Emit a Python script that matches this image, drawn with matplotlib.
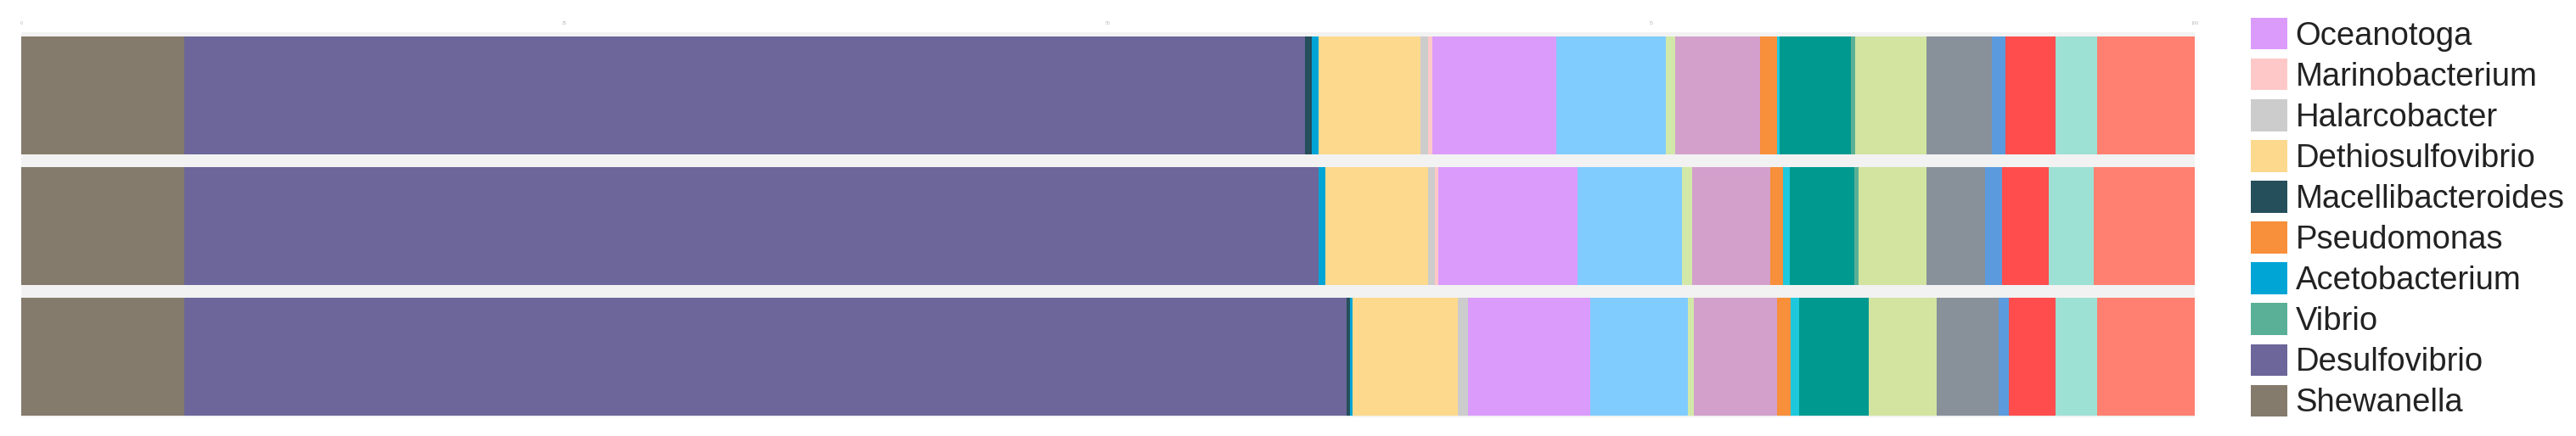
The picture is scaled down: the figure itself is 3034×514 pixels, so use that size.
import matplotlib.pyplot as plt
from matplotlib.patches import Patch

# ==========================================
# data (relative abundance, %), bars top -> bottom
# ==========================================
SAMPLES = ["S1", "S2", "S3"]

# stacking order, left -> right
TAXA = [
    "Shewanella", "Desulfovibrio", "Macellibacteroides", "Acetobacterium",
    "Dethiosulfovibrio", "Halarcobacter", "Marinobacterium", "Oceanotoga",
    "taxon_09", "taxon_10", "taxon_11", "Pseudomonas", "taxon_13",
    "taxon_14", "Vibrio", "taxon_16", "taxon_17", "taxon_18",
    "taxon_19", "taxon_20", "taxon_21",
]

S1 = [7.50, 51.56, 0.31, 0.31, 4.69, 0.35, 0.20, 5.70, 5.04, 0.43, 3.91,
      0.78, 0.10, 3.29, 0.20, 3.28, 3.01, 0.63, 2.30, 1.91, 4.49]
S2 = [7.50, 52.19, 0.00, 0.31, 4.73, 0.31, 0.16, 6.41, 4.80, 0.47, 3.59,
      0.59, 0.31, 2.96, 0.20, 3.13, 2.70, 0.78, 2.15, 2.07, 4.65]
S3 = [7.50, 53.48, 0.16, 0.12, 4.84, 0.47, 0.00, 5.63, 4.49, 0.27, 3.83,
      0.63, 0.39, 3.20, 0.00, 3.13, 2.85, 0.47, 2.15, 1.91, 4.49]

COLORS = [
    "#857B6C", "#6C669A", "#254F5A", "#00A5D6",
    "#FDD98D", "#CCCCCC", "#FFC8C8", "#DB9BFB",
    "#80CCFF", "#D2E8A8", "#D3A0CC", "#F78F3B", "#1EC8DC",
    "#009990", "#5AB096", "#D2E4A0", "#88909A", "#5B9BDD",
    "#FF4D4D", "#9DE0D4", "#FF8070",
]

# legend, top -> bottom
LEGEND_TAXA = ["Oceanotoga", "Marinobacterium", "Halarcobacter", "Dethiosulfovibrio",
               "Macellibacteroides", "Pseudomonas", "Acetobacterium", "Vibrio",
               "Desulfovibrio", "Shewanella"]

XTICKS = [0, 25, 50, 75, 100]
XTICK_LABELS = ["0", "25", "50", "75", "100"]

plt.rcParams['font.family'] = ['Liberation Sans', 'DejaVu Sans']

fig = plt.figure(figsize=(30.34, 5.14), dpi=100)
ax = fig.add_axes([25 / 3034, 1 - 492 / 514, 2560 / 3034, 454 / 514])
ax.set_facecolor("#F2F2F2")

values = [S1, S2, S3]
ypos = [2, 1, 0]
for y, row in zip(ypos, values):
    left = 0
    for name, v, c in zip(TAXA, row, COLORS):
        ax.barh(y, v, left=left, height=0.9, color=c, linewidth=0)
        left += v

ax.set_xlim(0, 100)
ax.set_ylim(-0.46, 2.48)
ax.set_yticks([])
ax.xaxis.tick_top()
ax.set_xticks(XTICKS)
ax.set_xticklabels(XTICK_LABELS, fontsize=4, color="#BBBBBB")
ax.tick_params(axis='x', length=0, pad=6)
for s in ax.spines.values():
    s.set_visible(False)

handles = [Patch(facecolor=COLORS[TAXA.index(t)], label=t) for t in LEGEND_TAXA]
fig.legend(handles=handles, loc='upper left',
           bbox_to_anchor=(2651 / 3034, 1 - 21 / 514), bbox_transform=fig.transFigure,
           frameon=False, fontsize=27.5, borderpad=0, borderaxespad=0,
           handlelength=1.13, handleheight=1.13, handletextpad=0.25,
           labelspacing=0.22, labelcolor="#222222")

fig.savefig("out.png", dpi=100)
